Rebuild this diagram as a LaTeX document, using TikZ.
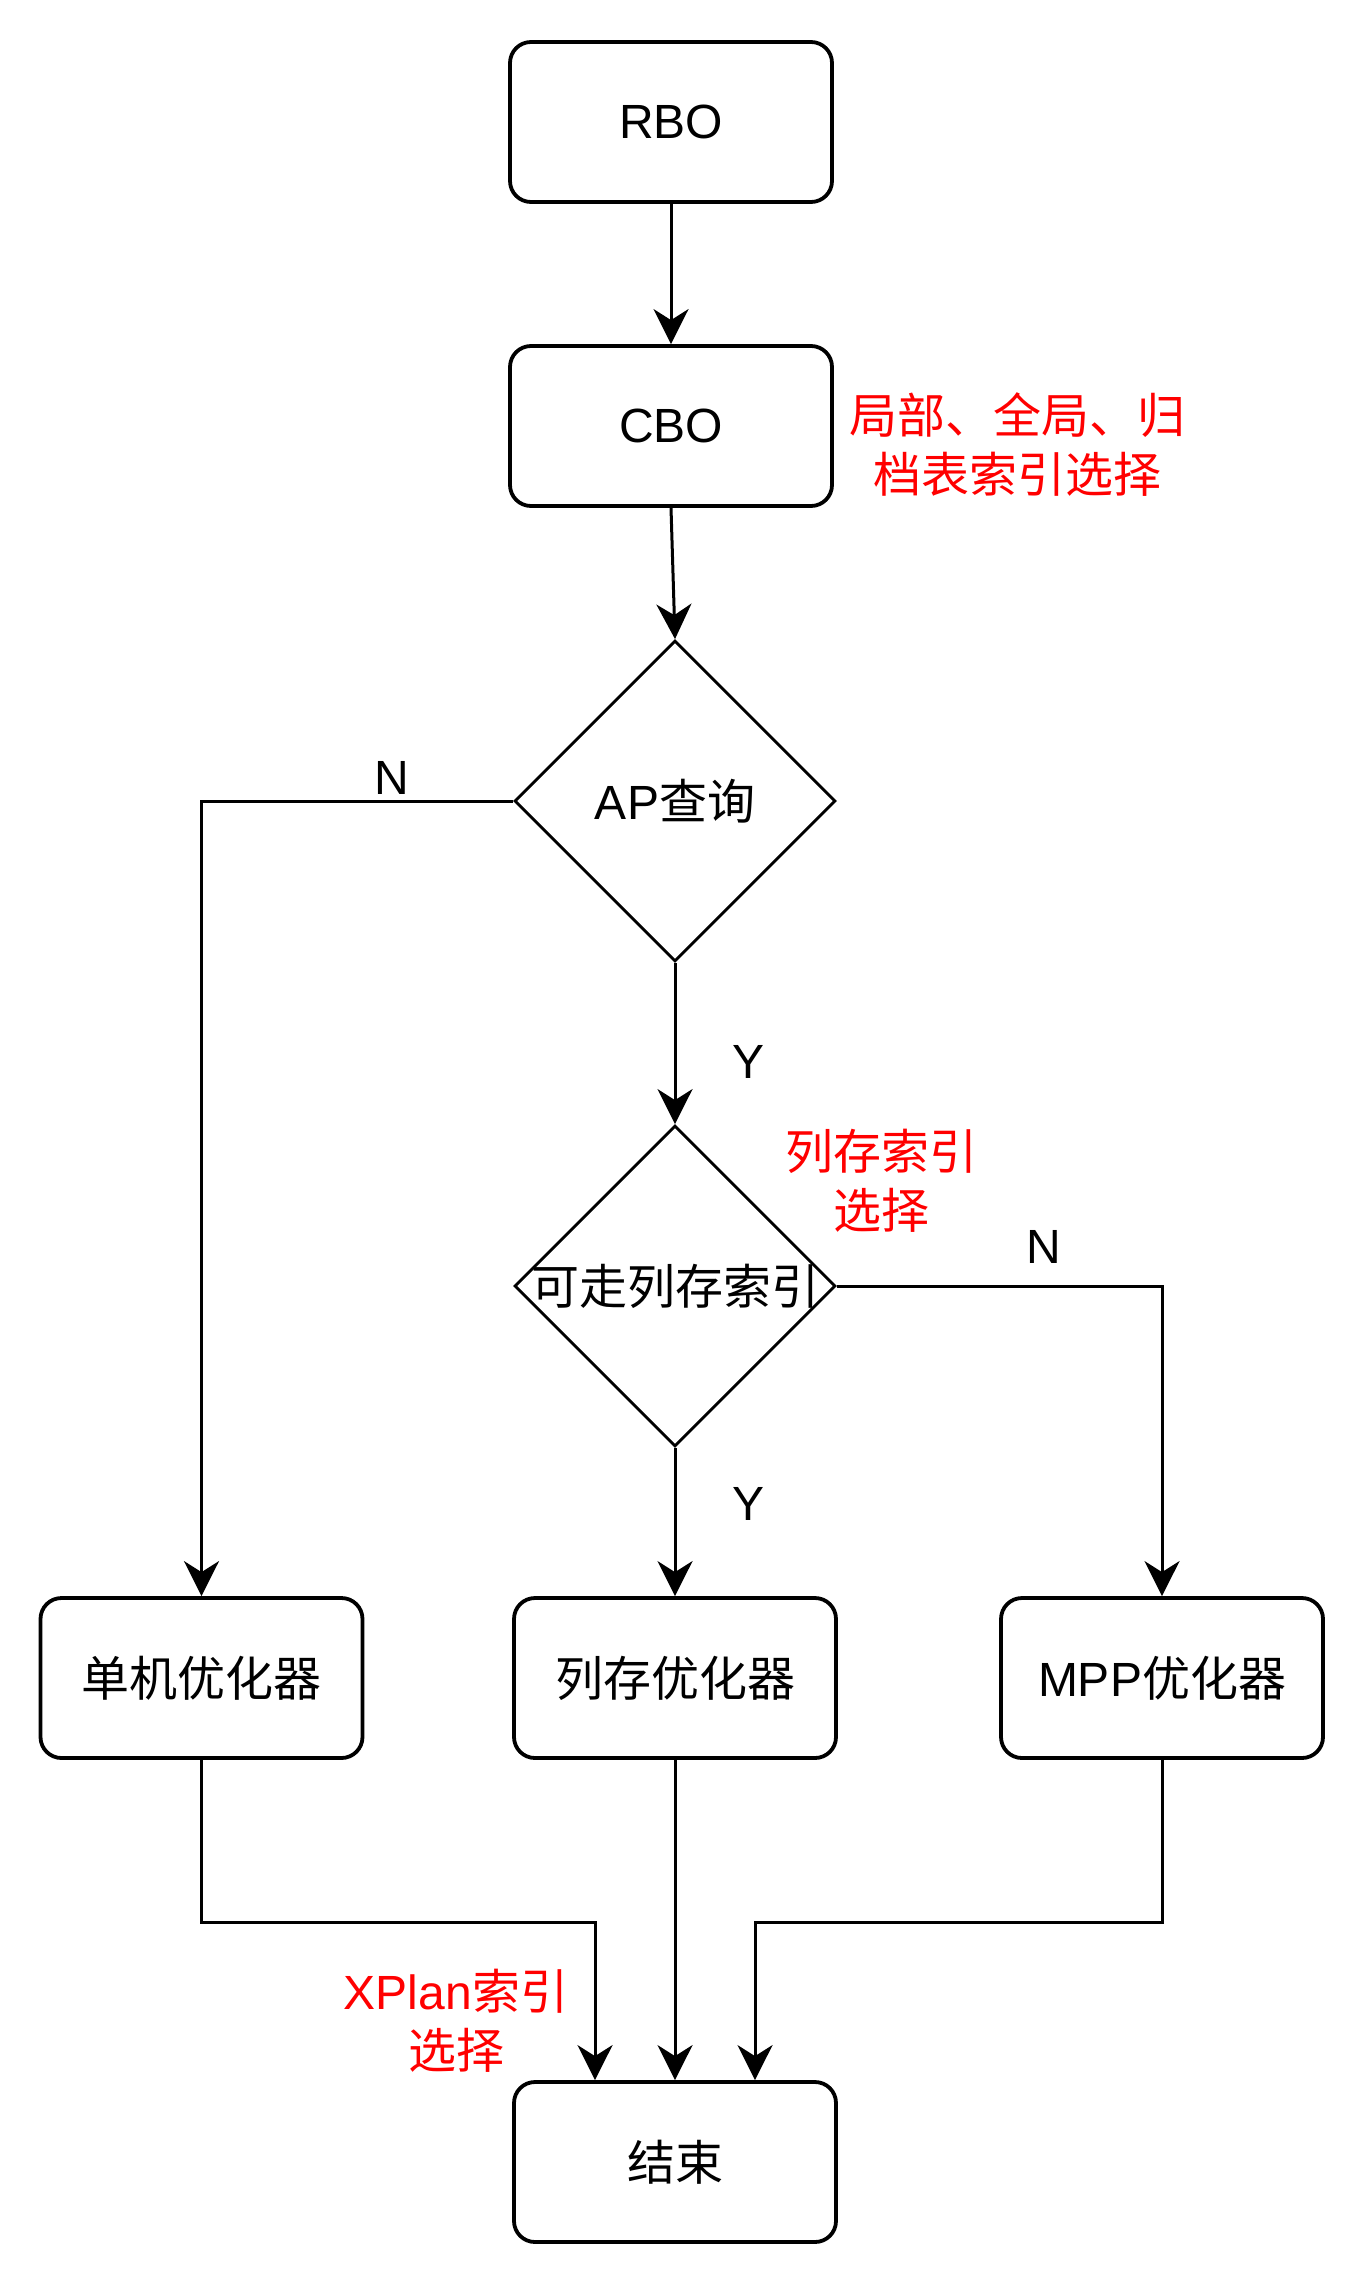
\documentclass[tikz,border=0pt]{standalone}
\usepackage{fontspec}
\setmainfont{Liberation Sans}
\newfontfamily\cjk{Noto Sans CJK SC}
\usetikzlibrary{shapes.geometric,arrows.meta}
\definecolor{lblred}{RGB}{255,0,0}
\tikzset{
  box/.style={draw, line width=1.9pt, rounded corners=10.5pt, minimum width=161pt, minimum height=80pt, inner sep=0pt, font=\fontsize{24}{28}\selectfont},
  dia/.style={draw, diamond, line width=1.4pt, minimum width=160.5pt, minimum height=160.5pt, inner sep=0pt, font=\fontsize{24}{28}\selectfont},
  arr/.style={line width=1.5pt, -{Stealth[length=17.5pt,width=17.5pt,inset=5.5pt]}},
  lbl/.style={inner sep=0pt, font=\fontsize{24}{28}\selectfont},
  redlbl/.style={inner sep=0pt, align=center, text=lblred, font=\fontsize{24}{29.5}\selectfont}
}
\begin{document}
\begin{tikzpicture}[x=0.5pt,y=-0.5pt]
\fill[white] (0,0) rectangle (1364,2284);
\useasboundingbox (0,0) rectangle (1364,2284);

\node[box] (rbo) at (671,122) {RBO};
\node[box] (cbo) at (671,426) {CBO};
\node[dia] (d1) at (675,801) {\makebox[0pt][c]{AP{\cjk 查询}}};
\node[dia] (d2) at (675,1286) {\makebox[0pt][c]{\cjk 可走列存索引}};
\node[box] (b1) at (201.5,1678) {\cjk 单机优化器};
\node[box] (b2) at (675,1678) {\cjk 列存优化器};
\node[box] (b3) at (1162,1678) {MPP{\cjk 优化器}};
\node[box] (end) at (675,2162) {\cjk 结束};

\coordinate (jy) at (0,1922);
\coordinate (eL) at ([xshift=-40pt]end.north);
\coordinate (eR) at ([xshift=40pt]end.north);

\draw[arr] (rbo.south) -- (cbo.north);
\draw[arr] (cbo.south) -- (d1.north);
\draw[arr] (d1.west) -| (b1.north);
\draw[arr] (d1.south) -- (d2.north);
\draw[arr] (d2.east) -| (b3.north);
\draw[arr] (d2.south) -- (b2.north);
\draw[arr] (b1.south) -- (b1.south |- jy) -| (eL);
\draw[arr] (b2.south) -- (end.north);
\draw[arr] (b3.south) -- (b3.south |- jy) -| (eR);

\node[lbl] (n1) at (392,778) {N};
\node[lbl] (y1) at (748,1062) {Y};
\node[lbl] (n2) at (1044,1247) {N};
\node[lbl] (y2) at (748,1504) {Y};

\node[redlbl] (r1) at (1017,445) {\cjk 局部、全局、归\\\cjk 档表索引选择};
\node[redlbl] (r2) at (881,1181) {\cjk 列存索引\\\cjk 选择};
\node[redlbl] (r3) at (456,2021) {XPlan{\cjk 索引}\\\cjk 选择};
\end{tikzpicture}
\end{document}
